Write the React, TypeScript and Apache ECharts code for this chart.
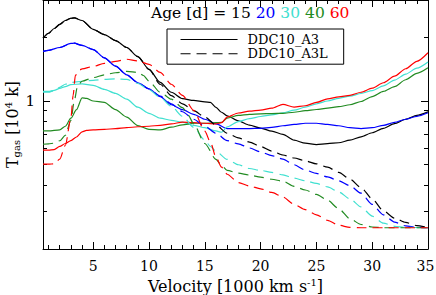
import React, { useEffect, useRef } from "react";
import * as echarts from "echarts";

const FONT = "DejaVu Serif";

// axis ticks
const xMajor = [5, 10, 15, 20, 25, 30, 35];
const xMinor = [1, 2, 3, 4, 6, 7, 8, 9, 11, 12, 13, 14, 16, 17, 18, 19, 21, 22, 23, 24, 26, 27, 28, 29, 31, 32, 33, 34];
const yMajor = [1];
const yMinor = [0.2, 0.3, 0.4, 0.5, 0.6, 0.7, 0.8, 0.9, 2, 3];
const yMin = 0.2;
const yMax = 3;
const xMin = 0.5;
const xMax = 35;

const ages = ["15", "20", "30", "40", "60"];
const colors = ["#000000", "#0000ff", "#40e0d0", "#228b22", "#ff0000"];
const models = ["DDC10_A3", "DDC10_A3L"];

// [velocity (1000 km/s), T_gas (1e4 K)]
const a3_15 = [[0.5,1.98],[1,2.09],[1.5,2.2],[2,2.3],[2.5,2.4],[3,2.46],[3.3,2.47],[4,2.40],[5,2.18],[6,2.06],[7,1.93],[8,1.79],[9,1.62],[10,1.41],[11,1.225],[12,1.1],[13,1.026],[14,1.006],[15,0.99],[15.5,0.985],[16,0.934],[16.5,0.885],[17,0.851],[18,0.806],[19,0.77],[20,0.745],[21,0.72],[22,0.696],[23,0.653],[24,0.632],[25,0.623],[26,0.629],[27,0.635],[28,0.653],[29,0.677],[30,0.708],[31,0.743],[32,0.782],[33,0.82],[34,0.856],[35,0.889]];
const a3l_15 = [[0.5,1.98],[1,2.09],[1.5,2.2],[2,2.3],[2.5,2.4],[3,2.46],[3.3,2.47],[4,2.40],[5,2.18],[6,2.06],[7,1.93],[8,1.79],[9,1.62],[10,1.41],[11,1.2],[12,1.06],[13,0.97],[14,0.9],[15,0.84],[16,0.77],[17,0.705],[18,0.67],[19,0.64],[20,0.61],[21,0.58],[22,0.556],[23,0.538],[24,0.522],[25,0.505],[26,0.487],[27,0.46],[28,0.428],[29,0.39],[30,0.345],[31,0.303],[32,0.28],[33,0.267],[34,0.258],[35,0.253]];
const a3_20 = [[0.5,1.715],[1,1.735],[2,1.79],[3,1.87],[3.3,1.875],[4,1.83],[5,1.75],[6,1.6],[7,1.46],[8,1.33],[9,1.22],[10,1.14],[11,1.05],[12,0.96],[13,0.91],[14,0.865],[15,0.82],[16,0.78],[17,0.741],[18,0.74],[19,0.741],[20,0.743],[21,0.751],[22,0.764],[23,0.776],[24,0.785],[25,0.785],[26,0.776],[27,0.764],[28,0.748],[29,0.741],[30,0.748],[31,0.768],[32,0.793],[33,0.82],[34,0.847],[35,0.88]];
const a3l_20 = [[0.5,1.715],[1,1.735],[2,1.79],[3,1.87],[3.3,1.875],[4,1.83],[5,1.75],[6,1.6],[7,1.46],[8,1.33],[9,1.22],[10,1.14],[11,1.055],[12,0.97],[13,0.89],[14,0.82],[15,0.76],[16,0.704],[17,0.65],[18,0.628],[19,0.6],[20,0.575],[21,0.552],[22,0.532],[23,0.5],[24,0.472],[25,0.455],[26,0.438],[27,0.42],[28,0.398],[29,0.367],[30,0.325],[31,0.29],[32,0.268],[33,0.257],[34,0.253],[35,0.252]];
const a3_30 = [[0.5,1.11],[1,1.11],[1.5,1.123],[2,1.148],[2.5,1.17],[3,1.195],[4,1.205],[5,1.186],[6,1.135],[7,1.087],[8,1.02],[9,0.935],[10,0.875],[11,0.83],[12,0.81],[13,0.795],[14,0.768],[15,0.748],[16,0.722],[16.5,0.712],[17,0.755],[18,0.8],[19,0.826],[20,0.845],[21,0.86],[22,0.88],[23,0.905],[24,0.935],[25,0.97],[26,1.0],[27,1.03],[28,1.055],[29,1.085],[30,1.12],[31,1.18],[32,1.255],[33,1.34],[34,1.43],[35,1.53]];
const a3l_30 = [[0.5,1.1],[1,1.1],[1.5,1.12],[2,1.16],[2.5,1.2],[3,1.225],[4,1.24],[5,1.252],[6,1.266],[7,1.273],[8,1.265],[9,1.21],[10,1.13],[11,1.04],[12,0.944],[13,0.847],[14,0.751],[15,0.653],[15.5,0.611],[16,0.579],[17,0.53],[18,0.5],[19,0.48],[20,0.47],[21,0.46],[22,0.448],[23,0.432],[24,0.42],[25,0.408],[26,0.393],[27,0.372],[28,0.345],[29,0.316],[30,0.286],[31,0.265],[32,0.256],[33,0.253],[35,0.252]];
const a3_40 = [[0.5,0.722],[1,0.722],[2,0.731],[2.5,0.76],[3,0.83],[3.5,0.91],[4,1.035],[4.4,1.03],[5,1.0],[6,0.985],[7,0.91],[8,0.84],[9,0.765],[10,0.735],[11,0.73],[12,0.752],[13,0.772],[14,0.785],[15,0.785],[16,0.79],[16.5,0.792],[17,0.83],[18,0.855],[19,0.865],[20,0.87],[21,0.872],[22,0.875],[23,0.885],[24,0.9],[25,0.912],[26,0.925],[27,0.94],[28,0.96],[29,0.995],[30,1.05],[31,1.11],[32,1.17],[33,1.26],[34,1.35],[35,1.434]];
const a3l_40 = [[0.5,0.625],[1,0.628],[1.5,0.632],[2,0.649],[2.5,0.689],[3,0.811],[3.3,1.0],[3.6,1.18],[4,1.24],[5,1.29],[6,1.33],[7,1.36],[8,1.38],[9,1.366],[9.5,1.32],[10,1.24],[11,1.1],[12,1.02],[13,0.93],[13.5,0.86],[14,0.78],[15,0.63],[16,0.53],[16.5,0.497],[17,0.47],[18,0.456],[19,0.447],[20,0.437],[21,0.427],[22,0.418],[23,0.395],[24,0.38],[25,0.362],[26,0.34],[27,0.31],[28,0.278],[29,0.261],[30,0.254],[31,0.252],[35,0.252]];
const a3_60 = [[0.5,0.586],[1,0.586],[1.5,0.59],[2,0.611],[2.5,0.63],[3,0.65],[3.5,0.676],[4,0.715],[4.4,0.727],[5,0.73],[6,0.735],[7,0.74],[8,0.748],[9,0.756],[10,0.76],[11,0.768],[12,0.78],[13,0.795],[14,0.79],[15,0.785],[16,0.78],[16.5,0.79],[17,0.84],[18,0.878],[19,0.895],[20,0.905],[21,0.925],[22,0.965],[23,0.935],[24,0.95],[25,0.985],[26,1.024],[27,1.047],[28,1.064],[29,1.1],[30,1.15],[31,1.22],[32,1.31],[33,1.42],[34,1.54],[35,1.69]];
const a3l_60 = [[0.5,0.503],[1,0.503],[1.5,0.505],[2,0.531],[2.5,0.618],[3,0.829],[3.2,1.064],[3.4,1.322],[3.8,1.403],[4,1.418],[5,1.457],[6,1.506],[7,1.539],[8,1.575],[9,1.547],[10,1.49],[11,1.366],[12,1.2],[13,1.064],[14,0.904],[15,0.72],[15.5,0.64],[16,0.542],[16.5,0.487],[17,0.451],[18,0.412],[19,0.397],[20,0.385],[21,0.37],[22,0.352],[23,0.325],[24,0.307],[25,0.29],[26,0.273],[27,0.259],[28,0.253],[29,0.252],[35,0.252]];

const solidSets = [a3_15, a3_20, a3_30, a3_40, a3_60];
const dashedSets = [a3l_15, a3l_20, a3l_30, a3l_40, a3l_60];

const DASH = [10, 6];

export default function App() {
  const ref = useRef<HTMLDivElement>(null);

  useEffect(() => {
    const chart = echarts.init(ref.current!, null, { renderer: "svg" });

    const txt = { fontFamily: FONT, color: "#000" };
    const nameRich = {
      n: { ...txt, fontSize: 16, lineHeight: 18, verticalAlign: "middle" },
      sub: { ...txt, fontSize: 10, lineHeight: 18, verticalAlign: "bottom", padding: [6, 0, 0, 0] },
      sup: { ...txt, fontSize: 10, lineHeight: 18, verticalAlign: "top" },
    };

    const xBase: any = {
      type: "value",
      min: xMin,
      max: xMax,
      splitLine: { show: false },
      axisLine: { show: false, onZero: false },
      axisLabel: { show: false },
      axisTick: { show: false },
    };
    // log axis carrying the data
    const yLog: any = {
      type: "log",
      logBase: 10,
      min: yMin,
      max: yMax,
      splitLine: { show: false },
      axisLine: { show: false, onZero: false },
      axisLabel: { show: false },
      axisTick: { show: false },
    };
    // same decade mapping, used only to place the minor log ticks
    const yDecade: any = {
      type: "value",
      min: Math.log10(yMin),
      max: Math.log10(yMax),
      splitLine: { show: false },
      axisLine: { show: false, onZero: false },
      axisLabel: { show: false },
      axisTick: { show: false },
    };
    const line = { show: true, onZero: false, lineStyle: { color: "#000", width: 1 } };
    const tick = (vals: number[], len: number) => ({
      show: true,
      inside: true,
      length: len,
      customValues: vals,
      lineStyle: { color: "#000", width: 1 },
    });
    const yMinorLog = yMinor.map((v) => Math.log10(v));

    const series: any[] = [];
    solidSets.forEach((d, i) => {
      series.push({
        type: "line",
        name: models[0] + " " + ages[i],
        data: d,
        symbol: "none",
        smooth: 0.25,
        smoothMonotone: "x",
        silent: true,
        lineStyle: { color: colors[i], width: 1.2, type: "solid" },
        itemStyle: { color: colors[i] },
        z: 3,
      });
    });
    dashedSets.forEach((d, i) => {
      series.push({
        type: "line",
        name: models[1] + " " + ages[i],
        data: d,
        symbol: "none",
        smooth: 0.25,
        smoothMonotone: "x",
        silent: true,
        lineStyle: { color: colors[i], width: 1.2, type: DASH },
        itemStyle: { color: colors[i] },
        z: 3,
      });
    });
    // legend entries
    models.forEach((m, i) => {
      series.push({
        type: "line",
        name: m,
        data: [],
        symbol: "none",
        lineStyle: { color: "#000", width: 1.1, type: i === 0 ? "solid" : DASH },
        itemStyle: { color: "#000" },
      });
    });

    const tickFont = { fontFamily: FONT, fontSize: 14, color: "#000" };

    const option: any = {
      animation: false,
      backgroundColor: "#fff",
      textStyle: { fontFamily: FONT },
      title: {
        text: "{k|Age [d] = 15 }{b|20 }{t|30 }{g|40 }{r|60}",
        left: 151,
        top: 5,
        padding: 0,
        textStyle: {
          fontFamily: FONT,
          fontSize: 15.5,
          fontWeight: "normal",
          rich: {
            k: { fontFamily: FONT, fontSize: 15.5, color: colors[0] },
            b: { fontFamily: FONT, fontSize: 15.5, color: colors[1] },
            t: { fontFamily: FONT, fontSize: 15.5, color: colors[2] },
            g: { fontFamily: FONT, fontSize: 15.5, color: colors[3] },
            r: { fontFamily: FONT, fontSize: 15.5, color: colors[4] },
          },
        },
      },
      legend: {
        data: models,
        orient: "vertical",
        left: 167,
        top: 29,
        padding: [4, 16, 4, 13],
        itemGap: 1.2,
        itemWidth: 57,
        itemHeight: 14,
        borderColor: "#000",
        borderWidth: 1,
        borderRadius: 0,
        selectedMode: false,
        itemStyle: { opacity: 0 },
        lineStyle: { width: 1.1 },
        formatter: (name: string) => `{t|${name}}`,
        textStyle: {
          fontFamily: FONT,
          fontSize: 13,
          color: "#000",
          rich: {
            t: { fontFamily: FONT, fontSize: 13, color: "#000", lineHeight: 14, padding: [0, 0, 0, 5] },
          },
        },
      },
      grid: { left: 43, right: 8, top: 0, bottom: 46, containLabel: false, outerBoundsMode: "none" },
      xAxis: [
        {
          ...xBase,
          position: "bottom",
          axisLine: line,
          axisTick: tick(xMajor, 7),
          axisLabel: {
            show: true,
            customValues: xMajor,
            margin: 10,
            ...tickFont,
            formatter: (v: number) => (v === xMax ? `{e|${v}}` : `${v}`),
            rich: { e: { ...tickFont, padding: [0, 5, 0, 0] } },
          },
          name: "{n|Velocity [1000 km s}{sup|-1}{n|]}",
          nameLocation: "middle",
          nameGap: 28,
          nameMoveOverlap: false,
          nameTextStyle: { rich: nameRich },
        },
        { ...xBase, position: "bottom", axisTick: tick(xMinor, 4) },
        { ...xBase, position: "top", axisLine: line, axisTick: tick(xMajor, 7) },
        { ...xBase, position: "top", axisTick: tick(xMinor, 4) },
      ],
      yAxis: [
        {
          ...yLog,
          position: "left",
          axisLine: line,
          axisTick: tick(yMajor, 7),
          axisLabel: {
            show: true,
            customValues: yMajor,
            margin: 8,
            ...tickFont,
            fontSize: 15,
            formatter: (v: number) => String(Math.round(v * 10) / 10),
          },
          name: "{n|T}{sub|gas}{n| [10}{sup|4}{n| k]}",
          nameLocation: "middle",
          nameGap: 22,
          nameMoveOverlap: false,
          nameTextStyle: { rich: nameRich },
        },
        { ...yDecade, position: "left", axisTick: tick(yMinorLog, 4) },
        { ...yLog, position: "right", axisLine: line, axisTick: tick(yMajor, 7) },
        { ...yDecade, position: "right", axisTick: tick(yMinorLog, 4) },
      ],
      series,
    };

    chart.setOption(option);
    return () => chart.dispose();
  }, []);

  return (
    <div
      ref={ref}
      style={{ position: "fixed", left: 0, top: 0, width: 436, height: 295 }}
    />
  );
}
